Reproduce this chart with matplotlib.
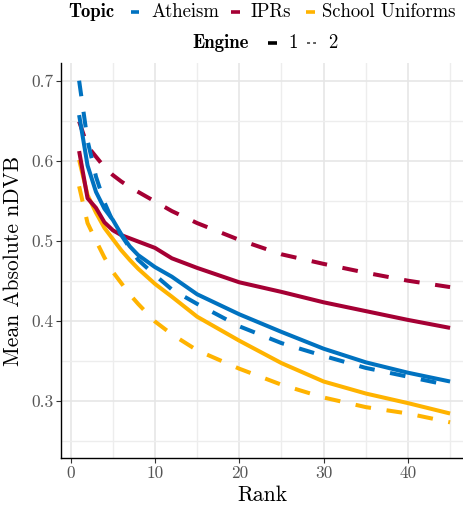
import matplotlib
matplotlib.use("Agg")
import matplotlib.pyplot as plt
from matplotlib.lines import Line2D

# values
rank = [1, 2, 3, 4, 5, 6, 7, 8, 10, 12, 15, 20, 25, 30, 35, 40, 45]

atheism_e1 = [0.657, 0.594, 0.561, 0.540, 0.526, 0.508, 0.493, 0.482, 0.467, 0.455,
              0.433, 0.408, 0.386, 0.365, 0.348, 0.335, 0.324]
atheism_e2 = [0.700, 0.625, 0.580, 0.548, 0.524, 0.507, 0.491, 0.476, 0.457, 0.439,
              0.421, 0.393, 0.372, 0.356, 0.341, 0.330, 0.319]
iprs_e1 = [0.612, 0.553, 0.541, 0.523, 0.513, 0.507, 0.503, 0.499, 0.491, 0.478,
           0.466, 0.448, 0.436, 0.423, 0.412, 0.401, 0.391]
iprs_e2 = [0.649, 0.618, 0.605, 0.592, 0.582, 0.574, 0.567, 0.561, 0.549, 0.537,
           0.522, 0.501, 0.483, 0.471, 0.460, 0.450, 0.442]
uniforms_e1 = [0.601, 0.557, 0.535, 0.516, 0.502, 0.488, 0.476, 0.465, 0.446, 0.430,
               0.405, 0.375, 0.347, 0.324, 0.309, 0.297, 0.284]
uniforms_e2 = [0.568, 0.522, 0.500, 0.479, 0.461, 0.447, 0.433, 0.421, 0.399, 0.383,
               0.363, 0.340, 0.320, 0.304, 0.292, 0.284, 0.273]

topics = ["Atheism", "IPRs", "School Uniforms"]
colors = {"Atheism": "#0072C0", "IPRs": "#A50034", "School Uniforms": "#FFB300"}
series = [("School Uniforms", uniforms_e1, uniforms_e2),
          ("IPRs", iprs_e1, iprs_e2),
          ("Atheism", atheism_e1, atheism_e2)]

plt.rcParams["font.family"] = "cmr10"
plt.rcParams["axes.formatter.use_mathtext"] = True

W, H = 464, 507
fig = plt.figure(figsize=(W / 100, H / 100), dpi=100)


def fx(px):
    return px / W


def fy(py):
    return 1 - py / H


ax = fig.add_axes([fx(61), fy(458), fx(464) - fx(61), fy(63) - fy(458)])

lw = 2.9
for topic, e1, e2 in series:
    c = colors[topic]
    ax.plot(rank, e1, color=c, lw=lw, solid_capstyle="butt", solid_joinstyle="round")
    ax.plot(rank, e2, color=c, lw=lw, dashes=(3.9, 3.9), dash_capstyle="butt",
            dash_joinstyle="round")

ax.set_xlim(-1.15, 46.65)
ax.set_ylim(0.2284, 0.7221)
ax.set_xticks([0, 10, 20, 30, 40])
ax.set_xticks([5, 15, 25, 35, 45], minor=True)
ax.set_yticks([0.3, 0.4, 0.5, 0.6, 0.7])
ax.set_yticks([0.25, 0.35, 0.45, 0.55, 0.65], minor=True)
ax.set_xticklabels(["0", "10", "20", "30", "40"])
ax.set_yticklabels(["0.3", "0.4", "0.5", "0.6", "0.7"])

ax.grid(which="major", color="#E6E6E6", lw=1.2)
ax.grid(which="minor", color="#EDEDED", lw=1.0)
ax.set_axisbelow(True)
ax.tick_params(which="major", length=3.5, width=0.8, color="#333333",
               labelcolor="#555555", labelsize=12.5, pad=2)
ax.tick_params(which="minor", length=0)
for s in ["top", "right"]:
    ax.spines[s].set_visible(False)
for s in ["left", "bottom"]:
    ax.spines[s].set_linewidth(1.0)
    ax.spines[s].set_color("black")

ax.set_xlabel("Rank", fontsize=15.5, labelpad=3)
ax.set_ylabel("Mean Absolute nDVB", fontsize=15.5, labelpad=6)

# legend drawn by hand, ggplot style
fs = 13.5
y1, y2 = 12, 43
fig.text(fx(68), fy(y1), "Topic", family="cmb10", fontsize=fs, va="center", ha="left")
keys = [(131, 139, 151), (231, 240, 251), (306, 315, 322)]
for topic, (k0, k1, tx) in zip(topics, keys):
    fig.add_artist(Line2D([fx(k0), fx(k1)], [fy(y1), fy(y1)], color=colors[topic],
                          lw=2.6, solid_capstyle="butt"))
    fig.text(fx(tx), fy(y1), topic, fontsize=fs, va="center", ha="left")

fig.text(fx(192), fy(y2), "Engine", family="cmb10", fontsize=fs, va="center", ha="left")
fig.add_artist(Line2D([fx(268), fx(277)], [fy(y2), fy(y2)], color="black",
                      lw=2.6, solid_capstyle="butt"))
fig.text(fx(288), fy(y2), "1", fontsize=fs, va="center", ha="left")
fig.add_artist(Line2D([fx(307), fx(316)], [fy(y2), fy(y2)], color="#333333",
                      lw=1.1, dashes=(2, 2), dash_capstyle="butt"))
fig.text(fx(328), fy(y2), "2", fontsize=fs, va="center", ha="left")

fig.savefig("out.png", dpi=100)
